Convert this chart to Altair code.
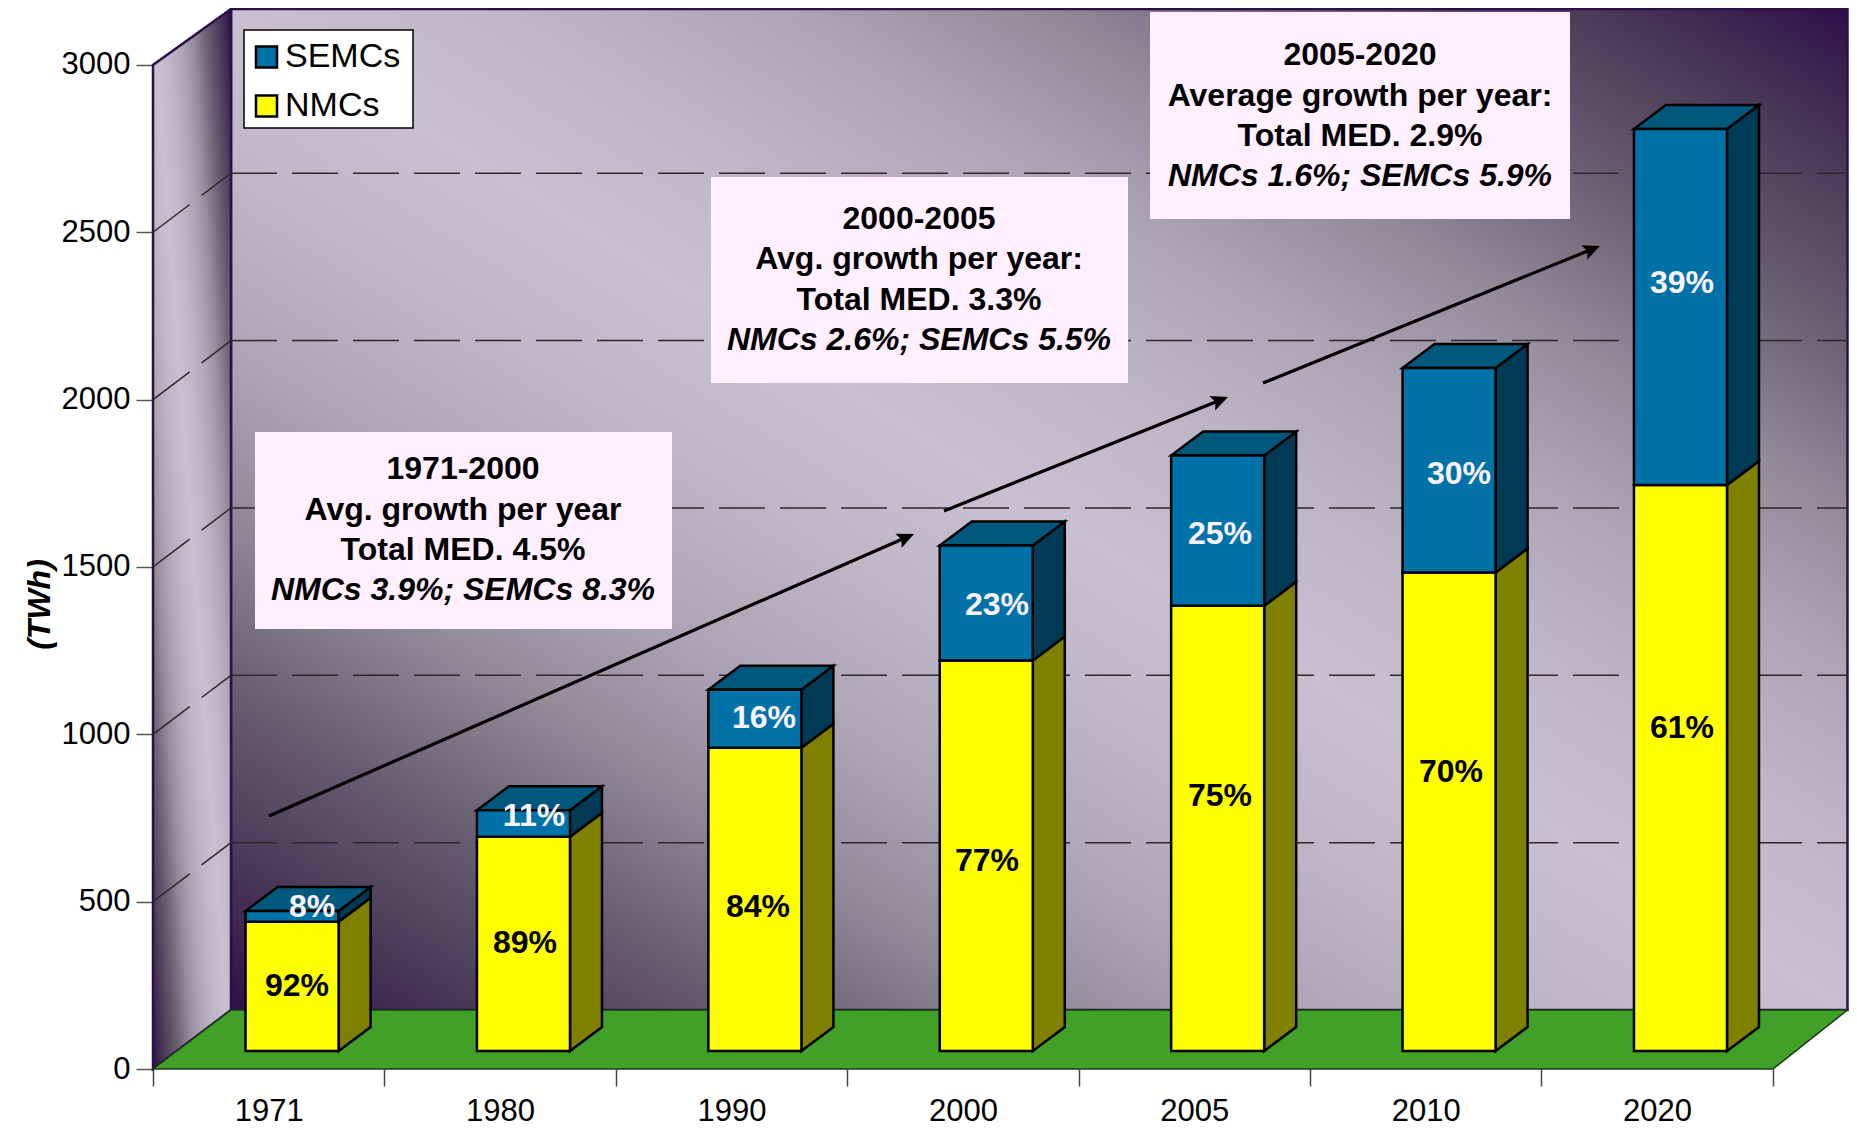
import json
import math
import altair as alt
import pandas as pd

YEARS = ["1971", "1980", "1990", "2000", "2005", "2010", "2020"]
NMC_TOP = [386, 640, 906, 1167, 1330, 1430, 1691]
TOTAL = [418, 719, 1079, 1510, 1779, 2041, 2755]
NMC_PCT = ["92%", "89%", "84%", "77%", "75%", "70%", "61%"]
SEMC_PCT = ["8%", "11%", "16%", "23%", "25%", "30%", "39%"]
NMC_LABEL_XY = [(297, 986), (525, 943), (758, 907), (987, 861), (1220, 796), (1451, 772), (1682, 728)]
SEMC_LABEL_XY = [(312, 907), (534, 816), (764, 718), (997, 605), (1220, 534), (1459, 474), (1682, 283)]

BOXES = [(255, 672, 432, 629), (711, 1128, 177, 383), (1150, 1570, 12, 219)]
BOX_CENTERS = [463, 919, 1360]
BOX_LINE_Y = [[469, 510, 550, 590], [219, 259, 300, 340], [55, 96, 136, 176]]
BOX_TEXT = [
    ["1971-2000", "Avg. growth per year", "Total MED. 4.5%", "NMCs 3.9%; SEMCs 8.3%"],
    ["2000-2005", "Avg. growth per year:", "Total MED. 3.3%", "NMCs 2.6%; SEMCs 5.5%"],
    ["2005-2020", "Average growth per year:", "Total MED. 2.9%", "NMCs 1.6%; SEMCs 5.9%"],
]
ARROWS = [((269, 816), (914, 534)), ((944, 511), (1228, 397)), ((1263, 383), (1600, 246))]

# page geometry
X0, CAT, Y0, UNIT = 153.0, 231.4, 1069.0, 0.3347
TOP = 8.0
RIGHT = 1849.0
def dx(p): return (p - X0) / CAT
def dy(p): return (Y0 - p) / UNIT

WALL_DX = 78 / CAT
WALL_DY = 59 / UNIT
WALL_R = dx(1847.5)
FLOOR_R = dx(1773)
WALL_TOP = dy(9)
BASE = 18 / UNIT
BAR_L = 0.40
BAR_W = 0.402
DEPTH_X = 32 / CAT
DEPTH_Y = 24 / UNIT

BLUE, BLUE_SIDE, BLUE_TOP = "#0072A8", "#003A55", "#00597D"
YEL, YEL_SIDE = "#FFFF00", "#808000"
PURPLE = "#2E1048"

xs = alt.Scale(domain=[0, dx(RIGHT)], nice=False, zero=False)
ys = alt.Scale(domain=[0, dy(TOP)], nice=False, zero=False)
xaxis = alt.Axis(
    values=[i / 2 for i in range(15)],
    labelExpr="datum.value % 1 == 0 ? '' : " + json.dumps(YEARS) + "[floor(datum.value)]",
    tickOpacity={"condition": {"test": "datum.value % 1 == 0", "value": 1}, "value": 0},
    tickSize=17, tickColor="#444", tickWidth=1.5, domain=False, grid=False, labelAngle=0,
    labelFontSize=31, labelFont="Liberation Sans", labelColor="black", labelPadding=10,
    labelOverlap=False, labelFlush=False, labelBound=False, title=None,
)
yaxis = alt.Axis(
    values=list(range(0, 3001, 500)), tickSize=17, tickColor="#555", tickWidth=1.5, domain=False, grid=False,
    labelFontSize=31, labelFont="Liberation Sans", labelColor="black", labelPadding=6,
    labelOverlap=False, labelBound=False, format="d",
    title="(TWh)", titleFont="Liberation Sans", titleFontSize=32, titleFontWeight="bold",
    titleFontStyle="italic", titleColor="black", titleAngle=270, titleX=39 - X0, titleY=604 - TOP,
    titleAlign="center", titleBaseline="middle",
)
X = lambda f="x": alt.X(f"{f}:Q", scale=xs, axis=xaxis)
Y = lambda f="y": alt.Y(f"{f}:Q", scale=ys, axis=yaxis)

STOPS = [(0, PURPLE), (0.08, "#4A3A58"), (0.17, "#6B6275"), (0.25, "#928999"), (0.33, "#ADA5B5"),
         (0.42, "#BFB7C7"), (0.5, "#C8C0D0"), (0.58, "#BFB7C7"), (0.67, "#ADA5B5"), (0.75, "#928999"),
         (0.83, "#6B6275"), (0.92, "#4A3A58"), (1, PURPLE)]
def grad():
    return alt.LinearGradient(gradient="linear", x1=0, y1=1, x2=1, y2=0,
                              stops=[alt.GradientStop(offset=o, color=c) for o, c in STOPS])

# back wall, side wall, floor
back = alt.Chart(pd.DataFrame([{"x": WALL_DX, "x2": WALL_R, "y": WALL_DY, "y2": WALL_TOP}])).mark_rect(
    fill=grad(), stroke=PURPLE, strokeWidth=2.5
).encode(x=X(), x2="x2:Q", y=Y(), y2="y2:Q")

side = alt.Chart(pd.DataFrame([
    {"x": 0, "y": 0, "y2": 3000}, {"x": WALL_DX, "y": WALL_DY, "y2": WALL_TOP}
])).mark_area(fill=grad(), stroke=PURPLE, strokeWidth=2.5, orient="vertical", opacity=1).encode(
    x=X(), y=Y(), y2="y2:Q")

floor = alt.Chart(pd.DataFrame([
    {"y": 0, "x": 0, "x2": FLOOR_R}, {"y": WALL_DY, "x": WALL_DX, "x2": WALL_R}
])).mark_area(color="#40A028", stroke="#1d3a18", strokeWidth=1.5, orient="horizontal", opacity=1).encode(
    y=Y(), x=X(), x2="x2:Q")

# dashed gridlines
rows = []
for v in range(500, 2501, 500):
    rows.append({"k": f"d{v}", "x": 0, "y": v})
    rows.append({"k": f"d{v}", "x": WALL_DX, "y": v + WALL_DY})
    rows.append({"k": f"h{v}", "x": WALL_DX, "y": v + WALL_DY})
    rows.append({"k": f"h{v}", "x": WALL_R, "y": v + WALL_DY})
grid = alt.Chart(pd.DataFrame(rows)).mark_line(color="#2a2a2a", strokeWidth=1.5, strokeDash=[46, 15]).encode(
    x=X(), y=Y(), detail="k:N")

# legend frame
legend_box = alt.Chart(pd.DataFrame([{"x": dx(244), "x2": dx(413), "y": dy(30), "y2": dy(128)}])).mark_rect(
    color="white", stroke="black", strokeWidth=1.5, opacity=1).encode(x=X(), x2="x2:Q", y=Y(), y2="y2:Q")

# bars
front, sides, tops = [], [], []
for i, year in enumerate(YEARS):
    l, r = i + BAR_L, i + BAR_L + BAR_W
    for name, lo, hi, col in (("NMCs", 0, NMC_TOP[i], YEL_SIDE), ("SEMCs", NMC_TOP[i], TOTAL[i], BLUE_SIDE)):
        front.append({"x": l, "x2": r, "y": BASE + lo, "y2": BASE + hi, "series": name})
        k = f"{year}{name}"
        sides.append({"k": k, "x": r, "y": BASE + lo, "y2": BASE + hi, "c": col})
        sides.append({"k": k, "x": r + DEPTH_X, "y": BASE + lo + DEPTH_Y, "y2": BASE + hi + DEPTH_Y, "c": col})
    t = BASE + TOTAL[i]
    tops.append({"k": year, "y": t, "x": l, "x2": r})
    tops.append({"k": year, "y": t + DEPTH_Y, "x": l + DEPTH_X, "x2": r + DEPTH_X})

side_faces = alt.Chart(pd.DataFrame(sides)).mark_area(stroke="black", strokeWidth=2.5, orient="vertical", opacity=1).encode(
    x=X(), y=Y(), y2="y2:Q", detail="k:N", fill=alt.Fill("c:N", scale=None, legend=None))
top_faces = alt.Chart(pd.DataFrame(tops)).mark_area(color=BLUE_TOP, stroke="black", strokeWidth=2.5, orient="horizontal", opacity=1).encode(
    y=Y(), x=X(), x2="x2:Q", detail="k:N")
front_faces = alt.Chart(pd.DataFrame(front)).mark_rect(stroke="black", strokeWidth=2.5, opacity=1).encode(
    x=X(), x2="x2:Q", y=Y(), y2="y2:Q",
    color=alt.Color("series:N", title=None,
                    scale=alt.Scale(domain=["SEMCs", "NMCs"], range=[BLUE, YEL]),
                    legend=alt.Legend(orient="none", legendX=249.5 - X0, legendY=40 - TOP, direction="vertical",
                                      symbolType="square", symbolSize=441, symbolStrokeColor="black",
                                      symbolStrokeWidth=2.5, symbolOpacity=1, labelFontSize=34,
                                      labelFont="Liberation Sans", labelColor="black", labelOffset=1.5,
                                      rowPadding=15, padding=0, labelLimit=200)))

# percentage labels
pct = pd.DataFrame(
    [{"x": dx(a), "y": dy(b), "t": t, "c": "black"} for (a, b), t in zip(NMC_LABEL_XY, NMC_PCT)]
    + [{"x": dx(a), "y": dy(b), "t": t, "c": "#FAF2FF"} for (a, b), t in zip(SEMC_LABEL_XY, SEMC_PCT)]
)
pct_text = alt.Chart(pct).mark_text(font="Liberation Sans", fontSize=32, fontWeight="bold", baseline="middle", align="center").encode(
    x=X(), y=Y(), text="t:N", fill=alt.Fill("c:N", scale=None, legend=None))

# annotation boxes
box = alt.Chart(pd.DataFrame([{"x": dx(a), "x2": dx(b), "y": dy(c), "y2": dy(d)} for a, b, c, d in BOXES])).mark_rect(
    color="#FFEFFF", opacity=1).encode(x=X(), x2="x2:Q", y=Y(), y2="y2:Q")
lines = []
for cx, ly, tx in zip(BOX_CENTERS, BOX_LINE_Y, BOX_TEXT):
    for j, (yy, t) in enumerate(zip(ly, tx)):
        lines.append({"x": dx(cx), "y": dy(yy), "t": t, "it": j == 3})
ldf = pd.DataFrame(lines)
box_text = alt.Chart(ldf[~ldf["it"]]).mark_text(font="Liberation Sans", fontSize=32, fontWeight="bold", baseline="middle", color="black").encode(
    x=X(), y=Y(), text="t:N")
box_ital = alt.Chart(ldf[ldf["it"]]).mark_text(font="Liberation Sans", fontSize=32, fontWeight="bold", fontStyle="italic", baseline="middle", color="black").encode(
    x=X(), y=Y(), text="t:N")

# arrows
arr_rows, head_rows = [], []
for n, ((a, b), (c, d)) in enumerate(ARROWS):
    ang = math.degrees(math.atan2(c - a, b - d))
    arr_rows.append({"k": n, "x": dx(a), "y": dy(b)})
    arr_rows.append({"k": n, "x": dx(c - 10 * math.sin(math.radians(ang))), "y": dy(d + 10 * math.cos(math.radians(ang)))})
    head_rows.append({"x": dx(c), "y": dy(d), "a": ang})
arrow_line = alt.Chart(pd.DataFrame(arr_rows)).mark_line(color="black", strokeWidth=3.2).encode(
    x=X(), y=Y(), detail="k:N")
arrow_head = alt.Chart(pd.DataFrame(head_rows)).mark_point(
    shape="M0,0L-0.46,1L0,0.8L0.46,1Z", filled=True, color="black", size=1156, opacity=1
).encode(x=X(), y=Y(), angle=alt.Angle("a:Q", scale=None))

chart = alt.layer(
    back, side, floor, grid, legend_box, side_faces, top_faces, front_faces, pct_text,
    arrow_line, arrow_head, box, box_text, box_ital
).properties(
    width=RIGHT - X0, height=Y0 - TOP,
    autosize=alt.AutoSizeParams(type="none"),
    padding={"left": X0 - 8, "top": 0, "right": 0, "bottom": 58},
    background="white",
).configure_view(stroke=None)

chart.save("out.html", embed_options={"renderer": "svg", "actions": False})
